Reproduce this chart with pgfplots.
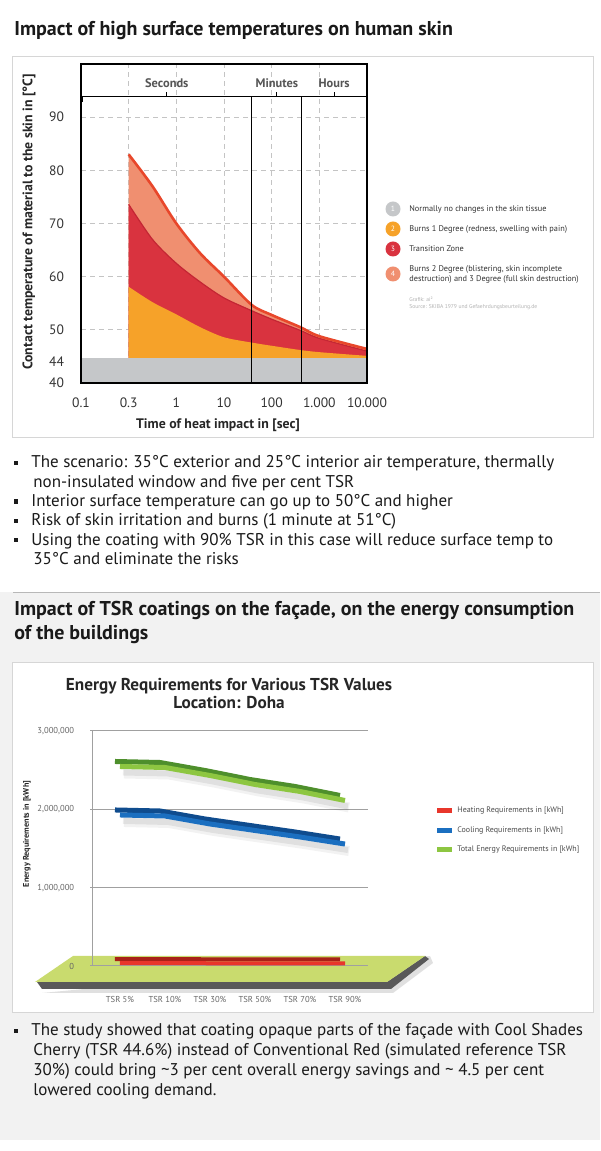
\documentclass[border=0pt]{standalone}
\usepackage{pgfplots}
\pgfplotsset{compat=1.18}
\usepackage{pgfplotstable}
\usepackage{fontspec}
\setmainfont{PT Sans}
\definecolor{bggray}{HTML}{F2F2F2}
\definecolor{boxgray}{HTML}{D6D6D6}
\definecolor{sepgray}{HTML}{B8B8B8}
\definecolor{titlec}{HTML}{1A1A1A}
\definecolor{bandgray}{HTML}{C5C7C9}
\definecolor{orangec}{HTML}{F6A229}
\definecolor{crimson}{HTML}{D9333F}
\definecolor{crimsondark}{HTML}{C42634}
\definecolor{salmonc}{HTML}{F08F70}
\definecolor{topline}{HTML}{E8472B}
\definecolor{gridc}{HTML}{C4C4C4}
\definecolor{tickc}{HTML}{333333}
\definecolor{headc}{HTML}{555555}
\definecolor{floorc}{HTML}{C9DB6E}
\definecolor{glight}{HTML}{8DC641}
\definecolor{gdark}{HTML}{4E8F2C}
\definecolor{blight}{HTML}{1B6FC0}
\definecolor{bdark}{HTML}{0F4C8E}
\definecolor{rlight}{HTML}{E8362B}
\definecolor{rdark}{HTML}{A82218}
\definecolor{axis2c}{HTML}{A0A0A0}
\definecolor{tick2c}{HTML}{666666}

\pgfplotstableread{
x y
1 83
1.5 77
2 70
2.5 64.4
3 60
3.58 54.7
4 52.8
4.6 50.5
5 48.8
6 46.4
}\salmondata
\pgfplotstableread{
x y
1 73.6
1.5 67
2 62.5
2.5 59
3 56
3.58 53.6
4 52
4.6 49.9
5 48.4
6 46.0
}\crimsondata
\pgfplotstableread{
x y
1 58.1
1.5 55.2
2 52.9
2.5 50.5
3 48.6
3.58 47.6
4 47.0
4.6 46.2
5 45.8
6 45.1
}\orangedata
\pgfplotstableread{
x g b r
0 2547000 1928000 36000
1 2534000 1915000 36000
2 2432000 1813000 35000
3 2317000 1730000 34000
4 2228000 1647000 33000
5 2113000 1557000 32000
}\energy

\begin{document}
\begin{tikzpicture}[x=0.5pt,y=0.5pt]
\begin{scope}[y=-0.5pt, yshift=575.5pt]
\useasboundingbox (0,0) rectangle (600,1151);
\fill[white] (0,0) rectangle (600,1151);
\fill[bggray] (0,592) rectangle (600,1140);
\draw[sepgray, line width=0.5pt] (13,592.5) -- (600,592.5);
% title 1
\node[anchor=base west, inner sep=0, font=\fontsize{10}{12}\selectfont\bfseries, text=titlec] at (14,36) {Impact of high surface temperatures on human skin};
\draw[boxgray, line width=0.5pt, fill=white] (12,57) rectangle (593,438);
% legend chart 1
\fill[bandgray] (393,209) circle (7.5);
\fill[orangec] (393,229) circle (7.5);
\fill[crimson] (393,249) circle (7.5);
\fill[salmonc] (393,274) circle (7.5);
\foreach \n/\yy in {1/209,2/229,3/249,4/274}
  \node[text=white, font=\fontsize{3.8}{4}\selectfont, inner sep=0] at (393,\yy) {\n};
\begin{scope}[every node/.style={anchor=west, inner sep=0, font=\fontsize{4.15}{5}\selectfont, text=black!80}]
\node at (409,209) {Normally no changes in the skin tissue};
\node at (409,229) {Burns 1 Degree (redness, swelling with pain)};
\node at (409,249) {Transition Zone};
\node at (409,269) {Burns 2 Degree (blistering, skin incomplete};
\node at (409,279) {destruction) and 3 Degree (full skin destruction)};
\end{scope}
\node[anchor=west, inner sep=0, font=\fontsize{2.8}{3}\selectfont, text=black!30] at (409,299) {Grafik: ai²};
\node[anchor=west, inner sep=0, font=\fontsize{2.8}{3}\selectfont, text=black!30] at (409,307) {Source: SKIBA 1979 und Gefaehrdungsbeurteilung.de};
% bullets 1
\begin{scope}[every node/.style={anchor=base west, inner sep=0, font=\fontsize{8.5}{10}\selectfont, text=titlec}]
\foreach \yy in {463,501.6,520.9,540.2} \fill[titlec] (13.5,\yy-2.3) rectangle (18,\yy+2.2);
\node at (31,468) {The scenario: 35°C exterior and 25°C interior air temperature, thermally};
\node at (33,487.3) {non-insulated window and five per cent TSR};
\node at (31,506.6) {Interior surface temperature can go up to 50°C and higher};
\node at (31,525.9) {Risk of skin irritation and burns (1 minute at 51°C)};
\node at (31,545.2) {Using the coating with 90\% TSR in this case will reduce surface temp to};
\node at (33,564.5) {35°C and eliminate the risks};
\end{scope}
% title 2
\node[anchor=base west, inner sep=0, font=\fontsize{10}{12}\selectfont\bfseries, text=titlec] at (14,616) {Impact of TSR coatings on the façade, on the energy consumption};
\node[anchor=base west, inner sep=0, font=\fontsize{10}{12}\selectfont\bfseries, text=titlec] at (14,640) {of the buildings};
% chart 2 box
\draw[boxgray, line width=0.5pt, fill=white] (12,663) rectangle (593,1013);
\node[font=\fontsize{8.6}{10}\selectfont\bfseries, text=black!85, inner sep=0] at (229,686) {Energy Requirements for Various TSR Values};
\node[font=\fontsize{8.6}{10}\selectfont\bfseries, text=black!85, inner sep=0] at (229,703) {Location: Doha};
% floor with shadow
\fill[black, opacity=0.12] (42,993) -- (393,993) -- (433,963) -- (430,956) -- cycle;
\fill[black!65] (37,982) -- (387,982) -- (425,956) -- (429,959) -- (391,989) -- (42,989) -- cycle;
\fill[floorc] (73,956) -- (425,956) -- (387,982) -- (35,982) -- cycle;
% legend chart 2
\fill[rlight] (437,808.5) rectangle (452,813.5);
\fill[blight] (437,828.5) rectangle (452,833.5);
\fill[glight] (437,847.5) rectangle (452,852.5);
\begin{scope}[every node/.style={anchor=west, inner sep=0, font=\fontsize{4.0}{5}\selectfont, text=black!70}]
\node at (457,811) {Heating Requirements in [kWh]};
\node at (457,831) {Cooling Requirements in [kWh]};
\node at (457,850) {Total Energy Requirements in [kWh]};
\end{scope}
% bullet 2
\begin{scope}[every node/.style={anchor=base west, inner sep=0, font=\fontsize{8.5}{10}\selectfont, text=titlec}]
\fill[titlec] (13.5,1031-2.3) rectangle (18,1031+2.2);
\node at (31,1036) {The study showed that coating opaque parts of the façade with Cool Shades};
\node at (33,1056) {Cherry (TSR 44.6\%) instead of Conventional Red (simulated reference TSR};
\node at (33,1076) {30\%) could bring \textasciitilde3 per cent overall energy savings and \textasciitilde{} 4.5 per cent};
\node at (33,1096) {lowered cooling demand.};
\end{scope}
\coordinate (A1) at (81,383);
\coordinate (A2) at (92,966);
\end{scope}

% ---------- chart 1 ----------
\begin{axis}[
 at={(A1)}, anchor=south west, scale only axis, width=143pt, height=159.5pt,
 xmin=0, xmax=6, ymin=40, ymax=100,
 xtick={0,...,6}, xticklabels={0.1,0.3,1,10,100,1.000,10.000},
 ytick={40,44,50,60,70,80,90},
 grid=major, major grid style={gridc, line width=0.45pt, dash pattern=on 2.5pt off 2pt},
 axis line style={draw=none},
 major tick length=0pt,
 tick label style={font=\fontsize{6.8}{7}\selectfont, text=tickc},
 /pgf/number format/assume math mode=true,
 yticklabel style={xshift=-5pt},
 xticklabel style={yshift=-4pt},
 xlabel={Time of heat impact in [sec]},
 ylabel={Contact temperature of material to the skin in [°C]},
 label style={font=\fontsize{6.9}{7.5}\selectfont\bfseries, text=black!85},
 xlabel style={at={(axis description cs:0.479,-0.1317)}, anchor=center},
 ylabel style={at={(axis description cs:-0.182,0.505)}, anchor=center},
 clip mode=individual,
]
\addplot[fill=salmonc, draw=none, smooth] table[x=x,y=y] {\salmondata} \closedcycle;
\addplot[fill=crimson, draw=none, smooth] table[x=x,y=y] {\crimsondata} \closedcycle;
\addplot[fill=orangec, draw=none, smooth] table[x=x,y=y] {\orangedata} \closedcycle;
\addplot[fill=bandgray, draw=none] coordinates {(0,40) (0,44.7) (6,44.7) (6,40)} -- cycle;
\addplot[crimsondark, line width=0.6pt, smooth] table[x=x,y=y] {\crimsondata};
\addplot[topline, line width=1.3pt, smooth] table[x=x,y=y] {\salmondata};
% frame details
\draw[black, line width=0.6pt] (axis cs:3.58,40) -- (axis cs:3.58,93.8);
\draw[black, line width=0.6pt] (axis cs:4.63,40) -- (axis cs:4.63,93.8);
\draw[black, line width=0.5pt] (axis cs:0.04,92.9) -- (axis cs:0.04,93.8) -- (axis cs:6,93.8);
\draw[black, line width=0.5pt] (axis cs:1.8,93.8) -- (axis cs:1.8,94.7);
\draw[black, line width=0.5pt] (axis cs:4.11,93.8) -- (axis cs:4.11,94.7);
\draw[black, line width=0.5pt] (axis cs:5.31,93.8) -- (axis cs:5.31,94.7);
\node[font=\fontsize{6.2}{7}\selectfont\bfseries, text=headc] at (axis cs:1.8,96.4) {Seconds};
\node[font=\fontsize{6.2}{7}\selectfont\bfseries, text=headc] at (axis cs:4.11,96.4) {Minutes};
\node[font=\fontsize{6.2}{7}\selectfont\bfseries, text=headc] at (axis cs:5.31,96.4) {Hours};
\draw[black, line width=0.75pt] (rel axis cs:0,0) rectangle (rel axis cs:1,1);
\end{axis}

% ---------- chart 2 ----------
\begin{axis}[
 at={(A2)}, anchor=south west, scale only axis, width=138pt, height=117.5pt,
 xmin=-0.622, xmax=5.511, ymin=0, ymax=3000000,
 axis lines*=left, axis line style={-},
 x axis line style={draw=none}, y axis line style={draw=axis2c, line width=0.5pt},
 xtick={0,...,5}, xticklabels={TSR 5\%,TSR 10\%,TSR 30\%,TSR 50\%,TSR 70\%,TSR 90\%},
 ytick={0,1000000,2000000,3000000},
 scaled y ticks=false,
 /pgf/number format/fixed, /pgf/number format/1000 sep={,},
 /pgf/number format/assume math mode=true,
 ymajorgrids, major grid style={draw=axis2c, line width=0.5pt},
 xtick style={draw=none}, ytick style={draw=axis2c, line width=0.5pt}, tick align=outside, major tick length=1pt,
 tick label style={font=\fontsize{4.3}{5}\selectfont, text=tick2c},
 yticklabel style={xshift=-4.4pt},
 xticklabel style={yshift=-10.5pt},
 ylabel={Energy Requirements in [kWh]},
 ylabel style={at={(axis description cs:-0.2355,0.562)}, anchor=center, font=\fontsize{4.1}{4.5}\selectfont\bfseries, text=black!85},
 clip=false,
]
% shadows
\addplot[no marks, draw=black, opacity=0.05, line width=5pt, xshift=2pt, yshift=-3.5pt] table[x=x,y=g] {\energy};
\addplot[no marks, draw=black, opacity=0.07, line width=3pt, xshift=1.5pt, yshift=-3pt] table[x=x,y=g] {\energy};
\addplot[no marks, draw=black, opacity=0.05, line width=5pt, xshift=2pt, yshift=-3.5pt] table[x=x,y=b] {\energy};
\addplot[no marks, draw=black, opacity=0.07, line width=3pt, xshift=1.5pt, yshift=-3pt] table[x=x,y=b] {\energy};
% heating
\addplot[no marks, draw=rdark, line width=2pt, line join=bevel, xshift=-2.5pt, yshift=2pt] table[x=x,y=r] {\energy};
\addplot[no marks, draw=rlight, line width=2pt, line join=bevel] table[x=x,y=r] {\energy};
% cooling
\addplot[no marks, draw=bdark, line width=2.5pt, line join=bevel, xshift=-2.5pt, yshift=2.5pt] table[x=x,y=b] {\energy};
\addplot[no marks, draw=blight, line width=2.5pt, line join=bevel] table[x=x,y=b] {\energy};
% total
\addplot[no marks, draw=gdark, line width=2.5pt, line join=bevel, xshift=-2.5pt, yshift=2.5pt] table[x=x,y=g] {\energy};
\addplot[no marks, draw=glight, line width=2.5pt, line join=bevel] table[x=x,y=g] {\energy};
\end{axis}
\end{tikzpicture}
\end{document}
